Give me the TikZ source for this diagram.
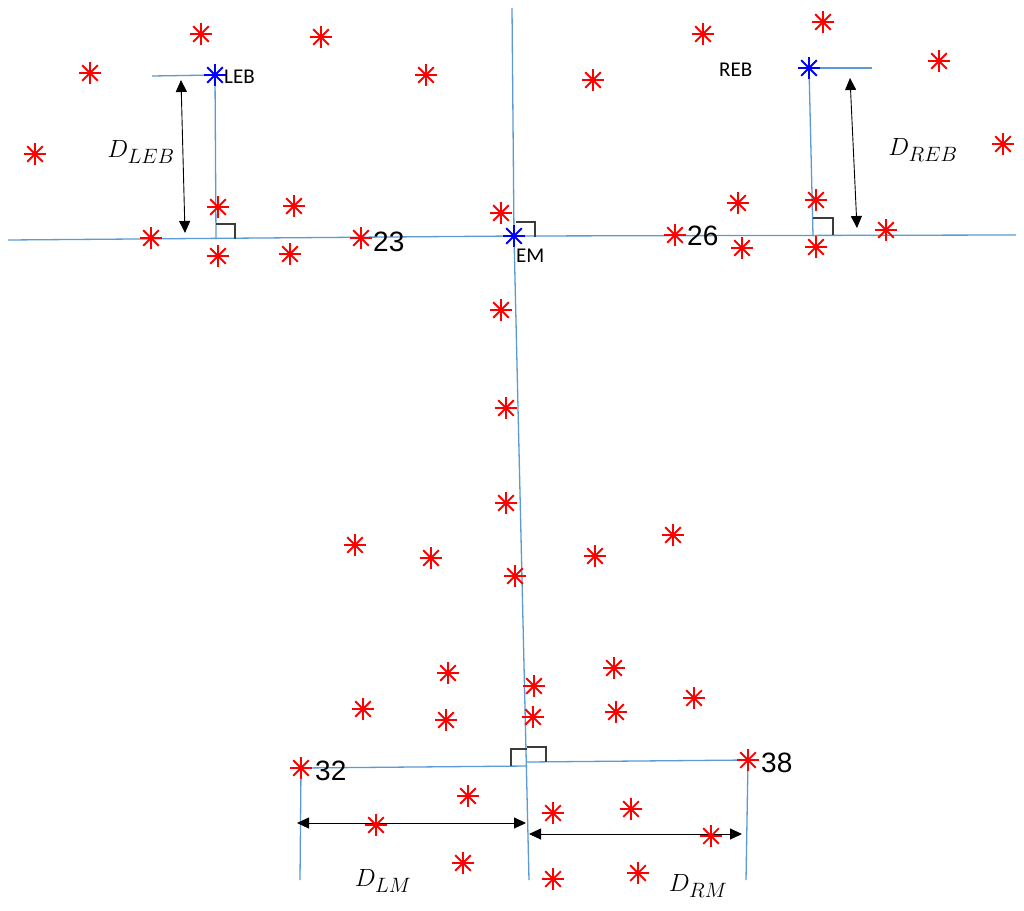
\documentclass[tikz,border=0pt]{standalone}
\usepackage{fontspec}
\newfontfamily\calib{Carlito}
\newfontfamily\arialf{Liberation Sans}
\DeclareMathSizes{27}{27}{20.5}{16}
\usetikzlibrary{arrows.meta}
\definecolor{lineblue}{RGB}{91,155,213}
\definecolor{rmark}{RGB}{255,0,0}
\definecolor{bmark}{RGB}{0,0,255}
\definecolor{angmark}{RGB}{60,60,60}
\tikzset{
  guide/.style={draw=lineblue, line width=1.3pt},
  rang/.style={draw=angmark, line width=1.3pt},
  dim/.style={draw=black, line width=0.9pt, {Triangle[length=12pt,width=11pt]}-{Triangle[length=12pt,width=11pt]}},
  lbl/.style={inner sep=0pt, font=\calib\fontsize{21}{21}\selectfont},
  num/.style={inner sep=0pt, font=\arialf\fontsize{28}{28}\selectfont},
  mlbl/.style={inner sep=0pt, font=\fontsize{27}{27}\selectfont},
  ast/.pic={\foreach \a in {0,45,...,315}{\draw[line width=1.8pt, line cap=butt] (0,0) -- (\a:11);}}
}
\begin{document}
\begin{tikzpicture}[x=1pt,y=-1pt]
\useasboundingbox[fill=white] (0,0) rectangle (1024,910);
% key points
\coordinate (EM) at (514,236);
\coordinate (LEB) at (215,75);
\coordinate (REB) at (809,68);
\coordinate (P23) at (361,238);
\coordinate (P26) at (675,235);
\coordinate (P32) at (301,768);
\coordinate (P38) at (748,760);
\coordinate (vtop) at (512,8);
\coordinate (vbot) at (529,880);
\coordinate (hl) at (8,240);
\coordinate (hr) at (1016,235);
\coordinate (lebL) at (152,76);
\coordinate (lebF) at (216,239);
\coordinate (rebR) at (872,68);
\coordinate (rebF) at (813,236);
\coordinate (jl) at (527,766);
\coordinate (jr) at (527,762);
\coordinate (d32) at (300,880);
\coordinate (d38) at (746,880);
\coordinate (aLEBt) at (181,80);
\coordinate (aLEBb) at (185,233);
\coordinate (aREBt) at (850,78);
\coordinate (aREBb) at (857,228);
\coordinate (aLMl) at (297,823);
\coordinate (aLMr) at (526,823);
\coordinate (aRMl) at (529,834);
\coordinate (aRMr) at (742,834);
% guide lines
\draw[guide] (vtop) -- (EM) -- (vbot);
\draw[guide] (hl) -- (EM) -- (hr);
\draw[guide] (lebL) -- (LEB) -- (lebF);
\draw[guide] (REB) -- (rebR);
\draw[guide] (REB) -- (rebF);
\draw[guide] (P32) -- (jl);
\draw[guide] (jr) -- (P38);
\draw[guide] (P32) -- (d32);
\draw[guide] (P38) -- (d38);
% right-angle marks
\draw[rang] (216,224) -- (235,224) -- (235,239);
\draw[rang] (813,218) -- (833,218) -- (833,235);
\draw[rang] (516,222) -- (535,222) -- (535,237);
\draw[rang] (527,749) -- (511,749) -- (511,766);
\draw[rang] (527,747) -- (546,747) -- (546,762);
% dimension arrows
\draw[dim] (aLEBt) -- (aLEBb);
\draw[dim] (aREBt) -- (aREBb);
\draw[dim] (aLMl) -- (aLMr);
\draw[dim] (aRMl) -- (aRMr);
% red markers
\foreach \p in {(201,34),(321,37),(90,73),(426,75),(35,154),(218,207),(294,206),(151,238),(361,238),(218,256),(290,254),
  (703,34),(823,22),(593,80),(939,61),(1003,144),(738,203),(816,200),(675,235),(742,248),(816,247),(886,230),(501,213),
  (501,310),(506,408),(506,503),(355,545),(431,558),(515,576),(595,556),(673,535),
  (448,673),(534,686),(614,668),(694,698),(363,709),(446,720),(533,717),(616,712),
  (301,768),(748,760),
  (468,796),(376,825),(553,813),(631,809),(711,836),(463,863),(553,879),(638,873)}
  \pic[draw=rmark] at \p {ast};
% blue markers
\pic[draw=bmark] at (LEB) {ast};
\pic[draw=bmark] at (REB) {ast};
\pic[draw=bmark] at (EM) {ast};
% labels
\node[lbl, anchor=west] (tLEB) at (224,77) {LEB};
\node[lbl, anchor=west] (tREB) at (719,70) {REB};
\node[lbl, anchor=west] (tEM) at (516,256) {EM};
\node[num, anchor=west] (t23) at (373,242) {23};
\node[num, anchor=west] (t26) at (687,236) {26};
\node[num, anchor=west] (t32) at (315,771) {32};
\node[num, anchor=west] (t38) at (761,763) {38};
\node[mlbl] (tDLEB) at (141,152) {$D_{LEB}$};
\node[mlbl] (tDREB) at (923,150) {$D_{REB}$};
\node[mlbl] (tDLM) at (383,881) {$D_{LM}$};
\node[mlbl] (tDRM) at (698,886) {$D_{RM}$};
\end{tikzpicture}
\end{document}
